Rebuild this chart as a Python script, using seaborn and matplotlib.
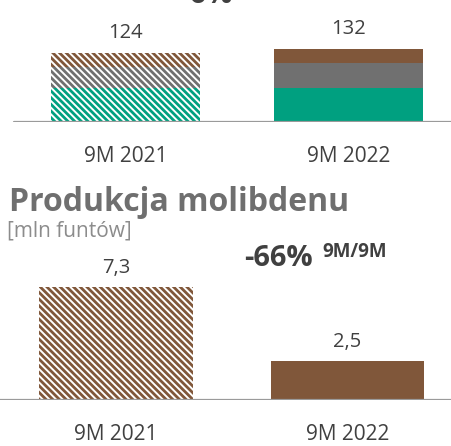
import pandas as pd
import seaborn as sns
import matplotlib.pyplot as plt

# data
periods = ["9M 2021", "9M 2022"]
cu_polska = [61, 62]
cu_intl = [38, 45]
cu_sierra = [25, 25]
cu_totals = [124, 132]
mo_values = [7.3, 2.5]
mo_labels = ["7,3", "2,5"]

green = "#00a080"
grey = "#707070"
brown = "#80573a"
text_dark = "#404040"

sns.set_style("white")
plt.rcParams["font.family"] = ["Open Sans", "DejaVu Sans"]
plt.rcParams["hatch.linewidth"] = 2.0

W, H = 452, 446
fig = plt.figure(figsize=(W / 100, H / 100), dpi=100)


def px_axes(left, top, right, bottom):
    return fig.add_axes([left / W, 1 - bottom / H, (right - left) / W, (bottom - top) / H])


def style_bars(ax, patches, color):
    # first period is hatched, second one solid
    for i, p in enumerate(patches):
        if i == 0:
            p.set_facecolor("white")
            p.set_edgecolor(color)
            p.set_hatch("\\" * 5)
            p.set_linewidth(0)
        else:
            p.set_facecolor(color)
            p.set_edgecolor(color)
            p.set_linewidth(0)


def finish(ax, line_start):
    ax.axhline(0, xmin=line_start / W, xmax=1, color="#9a9a9a", lw=1.6, zorder=5)
    sns.despine(ax=ax, left=True, bottom=True)
    ax.set_yticks([])
    ax.set_xlabel("")
    ax.set_ylabel("")
    ax.tick_params(axis="x", length=0, pad=17, labelsize=15, labelcolor=text_dark)


# ---- top chart: copper, stacked ----
cu = pd.DataFrame({
    "period": periods,
    "total": cu_totals,
    "lower": [a + b for a, b in zip(cu_polska, cu_intl)],
    "polska": cu_polska,
})
ax1 = px_axes(0, 0, W, 122)
for col, color in [("total", brown), ("lower", grey), ("polska", green)]:
    n = len(ax1.patches)
    sns.barplot(data=cu, x="period", y=col, ax=ax1, width=0.668, color=color)
    style_bars(ax1, ax1.patches[n:], color)
for i, v in enumerate(cu_totals):
    ax1.annotate(str(v), (i, v), xytext=(0, 11), textcoords="offset points",
                 ha="center", va="baseline", fontsize=14.5, color=text_dark)
ax1.set_xlim(-125.5 / 223, (W - 125.5) / 223)
ax1.set_ylim(0, 122 / (73 / 132))
finish(ax1, 14)
fig.text(174 / W, 1 - 3 / H, "+6%", fontsize=21, fontweight="bold",
         color=text_dark, va="baseline")

# ---- bottom chart: molybdenum ----
mo = pd.DataFrame({"period": periods, "value": mo_values})
ax2 = px_axes(0, 250, W, 400)
sns.barplot(data=mo, x="period", y="value", ax=ax2, width=0.665, color=brown)
style_bars(ax2, ax2.patches, brown)
for i, (v, lab) in enumerate(zip(mo_values, mo_labels)):
    ax2.annotate(lab, (i, v), xytext=(0, 10), textcoords="offset points",
                 ha="center", va="baseline", fontsize=14.5, color=text_dark)
ax2.set_xlim(-116 / 231.5, (W - 116) / 231.5)
ax2.set_ylim(0, 150 / (113 / 7.3))
finish(ax2, 0)

fig.text(9 / W, 1 - 211 / H, "Produkcja molibdenu", fontsize=23, fontweight="bold",
         color="#6f6f6f", va="baseline")
fig.text(7 / W, 1 - 236 / H, "[mln funtów]", fontsize=15, color="#8c8c8c", va="baseline")
fig.text(244 / W, 1 - 266 / H, "-66%", fontsize=21, fontweight="bold",
         color=text_dark, va="baseline")
fig.text(322 / W, 1 - 257 / H, "9M/9M", fontsize=13.5, fontweight="bold",
         color=text_dark, va="baseline")

fig.savefig("out.png", dpi=100)
plt.close(fig)
